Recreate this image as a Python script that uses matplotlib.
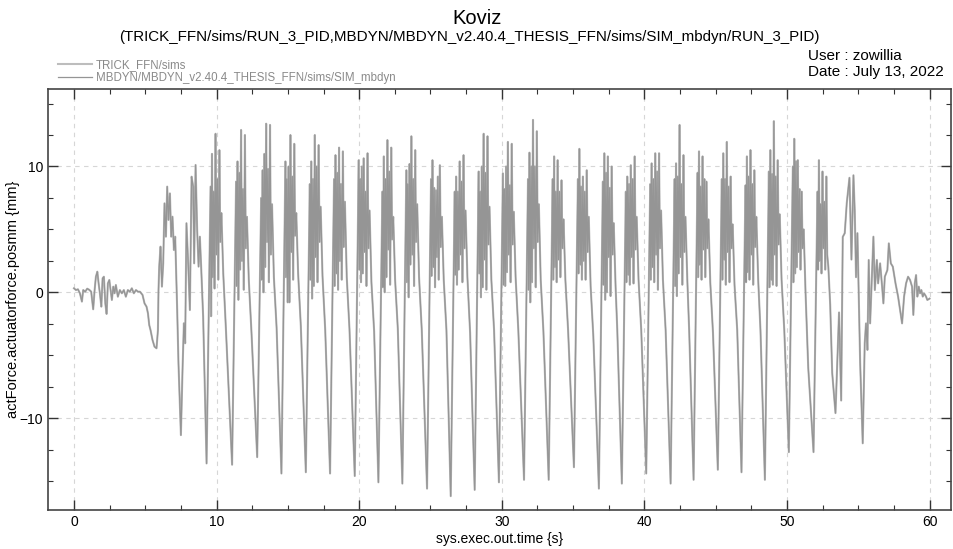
import matplotlib
matplotlib.use("Agg")
import matplotlib.pyplot as plt
import numpy as np
from matplotlib.ticker import MultipleLocator

plt.rcParams["font.family"] = ["Liberation Sans", "DejaVu Sans"]

# settling phase before the pumping starts
lead_t = [0.00, 0.14, 0.28, 0.42, 0.56, 0.65, 0.79, 0.93, 1.07, 1.21, 1.35, 1.45,
          1.54, 1.64, 1.73, 1.82, 1.92, 2.01, 2.10, 2.20, 2.29, 2.38, 2.48, 2.57,
          2.66, 2.76, 2.85, 2.94, 3.08, 3.22, 3.36, 3.50, 3.64, 3.78, 3.92, 4.06,
          4.20, 4.35, 4.49, 4.63, 4.81, 4.95, 5.09, 5.19, 5.28, 5.37, 5.51, 5.65,
          5.79, 5.89, 5.93, 5.98, 6.07, 6.17, 6.26, 6.35, 6.45, 6.54, 6.63, 6.73,
          6.82, 6.91, 7.01, 7.10, 7.24, 7.33,
          7.50, 7.62, 7.71, 7.80, 7.89, 8.01, 8.13, 8.25, 8.36, 8.43, 8.53, 8.64,
          8.74, 8.83, 8.92, 9.06]
lead_y = [0.32, 0.18, 0.24, -0.08, -0.74, 0.18, 0.05, 0.29, 0.20, 0.05, -1.35, 0.18,
          1.24, 1.64, 0.71, -0.08, -1.14, 1.11, 1.24, -0.88, -1.72, 0.71, 0.98, 0.18,
          -0.61, 0.45, -0.08, 0.58, -0.35, 0.18, -0.08, 0.18, -0.35, 0.18, 0.05, 0.32,
          -0.08, 0.18, 0.05, 0.05, -0.21, -0.88, -1.14, -1.67, -2.60, -3.00, -3.79, -4.32,
          -4.45, -3.00, 0.20, 2.04, 3.63, 0.45, 2.30, 7.07, 4.42, 8.40, 5.75, 7.86,
          4.42, 6.01, 3.36, 4.42, -1.41, -5.64,
          -11.35, -5.91, -2.46, -4.05, 5.49, 2.30, -1.41, 9.19, 8.40, 2.30, 10.12, 4.95,
          2.04, 4.42, 2.04, -1.93]

# one row per oscillation: trough, spike cluster, descent
cycle_t = [
    [9.30, 9.58, 9.62, 9.68, 9.74, 9.80, 9.86, 9.93, 9.99, 10.06, 10.12, 10.20, 10.26, 10.34, 10.47, 10.66],
    [11.09, 11.37, 11.41, 11.47, 11.53, 11.59, 11.65, 11.72, 11.78, 11.85, 11.91, 11.99, 12.05, 12.13, 12.26, 12.45],
    [12.85, 13.13, 13.17, 13.23, 13.29, 13.35, 13.41, 13.48, 13.54, 13.61, 13.67, 13.75, 13.81, 13.89, 14.02, 14.21],
    [14.55, 14.83, 14.87, 14.93, 14.99, 15.05, 15.11, 15.18, 15.24, 15.31, 15.37, 15.45, 15.51, 15.59, 15.72, 15.91],
    [16.26, 16.54, 16.58, 16.64, 16.70, 16.76, 16.82, 16.89, 16.95, 17.02, 17.08, 17.16, 17.22, 17.30, 17.43, 17.62],
    [17.96, 18.24, 18.28, 18.34, 18.40, 18.46, 18.52, 18.59, 18.65, 18.72, 18.78, 18.86, 18.92, 19.00, 19.13, 19.32],
    [19.69, 19.97, 20.01, 20.07, 20.13, 20.19, 20.25, 20.32, 20.38, 20.45, 20.51, 20.59, 20.65, 20.73, 20.86, 21.05],
    [21.35, 21.63, 21.67, 21.73, 21.79, 21.85, 21.91, 21.98, 22.04, 22.11, 22.17, 22.25, 22.31, 22.39, 22.52, 22.71],
    [23.03, 23.31, 23.35, 23.41, 23.47, 23.53, 23.59, 23.66, 23.72, 23.79, 23.85, 23.93, 23.99, 24.07, 24.20, 24.39],
    [24.76, 25.04, 25.08, 25.14, 25.20, 25.26, 25.32, 25.39, 25.45, 25.52, 25.58, 25.66, 25.72, 25.80, 25.93, 26.12],
    [26.42, 26.70, 26.74, 26.80, 26.86, 26.92, 26.98, 27.05, 27.11, 27.18, 27.24, 27.32, 27.38, 27.46, 27.59, 27.78],
    [28.10, 28.38, 28.42, 28.48, 28.54, 28.60, 28.66, 28.73, 28.79, 28.86, 28.92, 29.00, 29.06, 29.14, 29.27, 29.46],
    [29.80, 30.08, 30.12, 30.18, 30.24, 30.30, 30.36, 30.43, 30.49, 30.56, 30.62, 30.70, 30.76, 30.84, 30.97, 31.16],
    [31.56, 31.84, 31.88, 31.94, 32.00, 32.06, 32.12, 32.19, 32.25, 32.32, 32.38, 32.46, 32.52, 32.60, 32.73, 32.92],
    [33.29, 33.57, 33.61, 33.67, 33.73, 33.79, 33.85, 33.92, 33.98, 34.05, 34.11, 34.19, 34.25, 34.33, 34.46, 34.65],
    [35.06, 35.34, 35.38, 35.44, 35.50, 35.56, 35.62, 35.69, 35.75, 35.82, 35.88, 35.96, 36.02, 36.10, 36.23, 36.42],
    [36.81, 37.09, 37.13, 37.19, 37.25, 37.31, 37.37, 37.44, 37.50, 37.57, 37.63, 37.71, 37.77, 37.85, 37.98, 38.10],
    [38.42, 38.70, 38.74, 38.80, 38.86, 38.92, 38.98, 39.05, 39.11, 39.18, 39.24, 39.32, 39.38, 39.46, 39.59, 39.78],
    [40.13, 40.41, 40.45, 40.51, 40.57, 40.63, 40.69, 40.76, 40.82, 40.89, 40.95, 41.03, 41.09, 41.17, 41.30, 41.49],
    [41.84, 42.12, 42.16, 42.22, 42.28, 42.34, 42.40, 42.47, 42.53, 42.60, 42.66, 42.74, 42.80, 42.88, 43.01, 43.14],
    [43.45, 43.73, 43.77, 43.83, 43.89, 43.95, 44.01, 44.08, 44.14, 44.21, 44.27, 44.35, 44.41, 44.49, 44.62, 44.81],
    [45.15, 45.43, 45.47, 45.53, 45.59, 45.65, 45.71, 45.78, 45.84, 45.91, 45.97, 46.05, 46.11, 46.19, 46.32, 46.51],
    [46.81, 47.09, 47.13, 47.19, 47.25, 47.31, 47.37, 47.44, 47.50, 47.57, 47.63, 47.71, 47.77, 47.85, 47.98, 48.14],
    [48.45, 48.73, 48.77, 48.83, 48.89, 48.95, 49.01, 49.08, 49.14, 49.21, 49.27, 49.35, 49.41, 49.49, 49.62, 49.81],
    [50.13, 50.41, 50.45, 50.51, 50.57, 50.63, 50.69, 50.76, 50.82, 50.89, 50.95, 51.03, 51.09, 51.17, 51.30, 51.49],
    [51.86, 52.14, 52.18, 52.24, 52.30, 52.36, 52.42, 52.49, 52.55, 52.62, 52.68, 52.76, 52.82, 52.90, 53.03, 53.17],
]
cycle_y = [
    [-13.6, 8.4, -1.9, 11.0, 1.2, 8.0, 0.3, 12.6, 3.0, 9.0, 1.0, 11.3, 4.0, 6.3, 1.5, -3.0],
    [-13.7, 8.8, 0.5, 10.4, -0.6, 9.5, 1.8, 12.9, 2.5, 8.2, 0.2, 12.5, 3.5, 6.0, 1.0, -3.2],
    [-13.1, 7.5, 1.0, 9.7, 0.0, 11.0, 2.0, 13.4, 4.0, 9.8, 0.8, 13.3, 3.0, 7.0, 1.2, -2.8],
    [-14.4, 10.4, 1.2, 9.0, -0.8, 10.0, -0.8, 12.5, 3.2, 9.2, 1.0, 11.8, 4.5, 6.3, 1.5, -2.7],
    [-14.3, 8.6, 1.0, 10.4, -0.5, 9.0, 0.5, 12.5, 2.8, 10.0, 0.8, 11.7, 4.0, 6.8, 1.3, -3.0],
    [-14.4, 9.0, 0.5, 10.9, 1.5, 9.5, 0.2, 11.5, 2.5, 8.6, 1.0, 11.2, 3.6, 7.2, 1.2, -2.9],
    [-14.6, 10.5, 1.8, 9.0, 0.8, 10.0, 1.5, 10.65, 3.2, 8.0, 0.5, 11.05, 3.5, 6.5, 0.8, -3.1],
    [-15.1, 8.0, 0.4, 10.8, 0.0, 9.0, 1.2, 12.1, 3.4, 9.6, 0.6, 11.5, 4.2, 6.0, 1.0, -2.9],
    [-15.2, 9.7, 0.8, 8.6, -0.4, 10.2, 2.2, 12.4, 3.0, 9.0, 0.5, 11.3, 4.0, 7.0, 1.2, -3.0],
    [-15.6, 9.0, 1.3, 10.5, 2.0, 8.3, 0.4, 8.1, 2.8, 9.2, 1.0, 10.1, 3.6, 6.0, 1.0, -3.0],
    [-16.2, 8.0, 1.4, 9.2, 0.6, 8.0, 1.8, 10.4, 3.0, 8.8, 0.8, 10.9, 3.5, 6.5, 1.2, -3.2],
    [-15.7, 9.6, 1.5, 8.0, -0.4, 10.0, 0.4, 12.6, 2.6, 9.5, 0.2, 12.4, 3.8, 6.8, 1.0, -3.0],
    [-15.1, 9.45, 0.6, 8.2, 0.5, 10.0, 1.6, 11.95, 3.0, 8.5, 0.8, 11.8, 3.8, 6.4, 1.2, -3.0],
    [-14.9, 9.0, 0.2, 11.1, -0.8, 10.0, 0.8, 13.7, 3.5, 10.0, 0.4, 12.8, 4.0, 7.0, 1.0, -3.1],
    [-14.9, 9.0, 1.0, 10.8, 2.0, 8.0, 0.8, 10.5, 2.6, 8.0, 1.2, 8.9, 3.5, 5.8, 1.0, -3.0],
    [-13.9, 9.0, 1.5, 11.4, 2.2, 8.4, 1.0, 9.2, 2.5, 8.0, 1.0, 9.7, 3.2, 6.0, 0.5, -3.5],
    [-15.6, 8.8, 0.6, 11.05, -0.6, 9.5, 0.0, 10.8, 2.8, 8.3, -0.3, 10.0, 3.0, 5.5, 0.5, -3.0],
    [-15.2, 8.0, 0.8, 9.2, 1.4, 8.6, 0.6, 10.1, 2.8, 9.0, 0.7, 10.8, 3.4, 6.0, 1.0, -3.0],
    [-14.4, 8.6, 1.0, 10.25, 2.0, 9.0, 0.8, 11.05, 3.0, 9.6, 0.2, 11.05, 3.5, 6.5, 1.0, -3.0],
    [-15.2, 9.0, 0.5, 10.25, -0.3, 9.2, 1.5, 13.3, 2.8, 8.6, 0.6, 10.9, 3.2, 6.0, 1.0, -3.0],
    [-14.9, 9.5, 1.2, 11.2, 2.2, 8.4, 1.0, 10.8, 3.4, 9.0, 1.2, 8.8, 3.5, 5.8, 0.8, -3.2],
    [-14.1, 9.0, 1.0, 11.05, 2.6, 9.0, 0.6, 11.95, 3.2, 8.4, 0.8, 9.2, 3.5, 5.4, 0.6, -3.0],
    [-14.3, 8.5, 0.8, 10.8, 1.6, 9.2, 1.0, 11.3, 3.0, 8.6, 0.6, 9.7, 3.6, 6.0, 1.0, -3.0],
    [-14.9, 9.6, 0.4, 11.3, 1.0, 9.4, 0.6, 13.6, 3.0, 9.2, 0.5, 10.5, 3.8, 6.2, 1.0, -3.0],
    [-12.7, 10.0, 0.8, 12.2, 1.5, 10.4, 2.0, 10.5, 3.2, 8.2, 1.8, 8.0, 3.5, 5.0, 0.0, -6.0],
    [-12.7, 8.0, 1.8, 10.5, 2.5, 7.0, 1.5, 9.6, 3.5, 7.2, 1.8, 9.2, 3.0, 2.0, -1.0, -6.4],
]

# damping out after the last full swings
tail_t = [53.40, 53.65, 53.80, 53.91, 54.05, 54.19, 54.38, 54.52, 54.66, 54.75, 54.84, 54.94,
          55.13, 55.31, 55.45, 55.54, 55.64, 55.73, 55.83, 55.92, 56.06, 56.16, 56.30, 56.39,
          56.53, 56.67, 56.76, 56.86, 57.04, 57.14, 57.28, 57.42, 57.61, 57.79, 57.93, 58.07,
          58.21, 58.35, 58.49, 58.63, 58.77, 58.86, 58.96, 59.05, 59.14, 59.24, 59.33, 59.42,
          59.52, 59.61, 59.75, 59.84, 60.00]
tail_y = [-9.6, -1.6, -8.6, 4.4, 4.7, 7.07, 9.1, 2.6, 9.3, 6.5, 1.2, 4.7,
          -5.6, -12.0, -4.06, -2.47, -4.58, 2.57, -2.47, 0.18, 4.42, 0.18, 2.57, 0.71,
          2.30, 0.45, -0.88, 1.24, 1.77, 3.89, 2.30, 2.04, 0.71, -0.34, -1.41, -2.47,
          -0.34, 0.71, 1.24, 0.98, 0.45, -1.80, 0.71, 1.37, -0.34, 0.45, -0.08, 0.18,
          -0.34, -0.08, -0.34, -0.61, -0.5]

trick_t = np.array(lead_t + sum(cycle_t, []) + tail_t)
trick_y = np.array(lead_y + sum(cycle_y, []) + tail_y)
# the MBDYN run lies on top of the TRICK run at this scale
mbdyn_t = trick_t.copy()
mbdyn_y = trick_y.copy()

fig = plt.figure(figsize=(9.54, 5.49), dpi=100)
ax = fig.add_axes([0.0503, 0.071, 0.947, 0.767])

l1, = ax.plot(trick_t, trick_y, color="#bdbdbd", lw=1.5, label="TRICK_FFN/sims")
l2, = ax.plot(mbdyn_t, mbdyn_y, color="#959595", lw=0.9,
              label="MBDYN/MBDYN_v2.40.4_THESIS_FFN/sims/SIM_mbdyn")

ax.set_xlim(-1.82, 61.53)
ax.set_ylim(-17.3, 16.16)
ax.xaxis.set_major_locator(MultipleLocator(10))
ax.xaxis.set_minor_locator(MultipleLocator(2.5))
ax.yaxis.set_major_locator(MultipleLocator(10))
ax.yaxis.set_minor_locator(MultipleLocator(2.5))
ax.tick_params(which="both", direction="in", top=True, right=True, labelsize=10,
               color="#333333")
ax.tick_params(which="major", length=7, width=1.0)
ax.tick_params(which="minor", length=3.5, width=0.8)
ax.grid(True, which="major", linestyle=(0, (4, 4)), color="#d6d6d6", lw=0.8)
for s in ax.spines.values():
    s.set_color("#444444")
    s.set_linewidth(1.2)

ax.set_xlabel("sys.exec.out.time {s}", fontsize=10, labelpad=2)
ax.set_ylabel("actForce.actuatorforce.posmm {mm}", fontsize=10.5)
ax.yaxis.set_label_coords(-0.0315, 0.5)

fig.text(0.5, 0.967, "Koviz", ha="center", va="center", fontsize=14.5)
fig.text(0.492, 0.932,
         "(TRICK_FFN/sims/RUN_3_PID,MBDYN/MBDYN_v2.40.4_THESIS_FFN/sims/SIM_mbdyn/RUN_3_PID)",
         ha="center", va="center", fontsize=10.9)
fig.text(0.847, 0.898, "User : zowillia", ha="left", va="center", fontsize=11)
fig.text(0.847, 0.868, "Date : July 13, 2022", ha="left", va="center", fontsize=11)

fig.legend(handles=[l1, l2], loc="upper left", bbox_to_anchor=(0.052, 0.907),
           frameon=False, fontsize=8.3, labelcolor="#8a8a8a", handlelength=3.0,
           handletextpad=0.3, labelspacing=0.1, borderpad=0.2)

plt.savefig("out.png", dpi=100)
